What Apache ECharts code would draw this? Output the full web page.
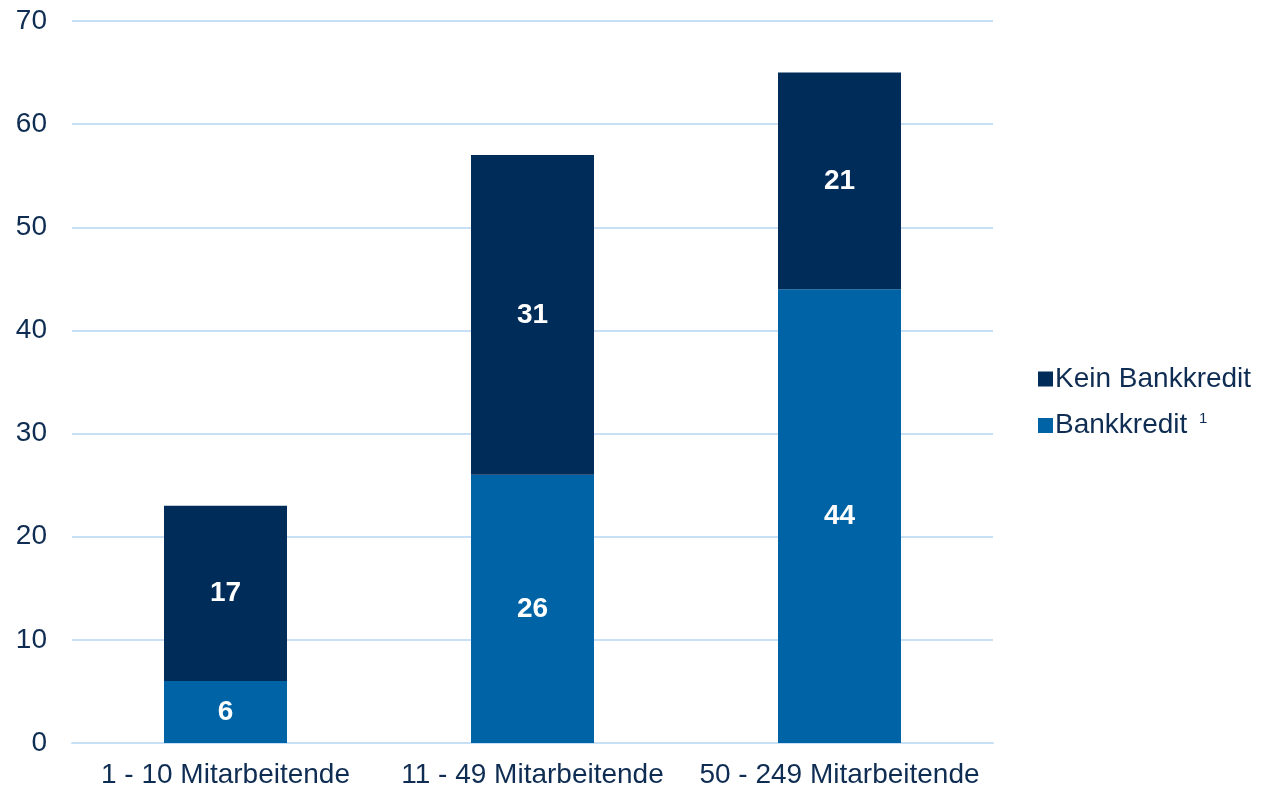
<!DOCTYPE html>
<html><head><meta charset="utf-8">
<script src="https://cdn.jsdelivr.net/npm/echarts@6/dist/echarts.min.js"></script>
<style>html,body{margin:0;padding:0;background:#fff}#c{width:1272px;height:789px}</style>
</head><body><div id="c"></div>
<script>
const categories = ['1 - 10 Mitarbeitende', '11 - 49 Mitarbeitende', '50 - 249 Mitarbeitende'];
const bankkredit = [6, 26, 44];
const keinBankkredit = [17, 31, 21];
const yTicks = [0, 10, 20, 30, 40, 50, 60, 70];

const navy = '#002C5A';
const blue = '#0063A6';
const textColor = '#0F2D52';
const gridColor = '#C7E0F6';
const font = '"Liberation Sans", Arial, sans-serif';

const chart = echarts.init(document.getElementById('c'));
chart.setOption({
  animation: false,
  grid: { left: 72, right: 279, top: 21, bottom: 46, containLabel: false },
  legend: {
    orient: 'vertical', left: 1033, top: 360, itemGap: 18,
    itemWidth: 15, itemHeight: 15, icon: 'rect',
    data: ['Kein Bankkredit', 'Bankkredit'],
    formatter: function (n) { return n === 'Bankkredit' ? 'Bankkredit {sup|1}' : n; },
    textStyle: { color: textColor, fontSize: 28, fontFamily: font, padding: [0, 0, 0, -3],
      rich: { sup: { fontSize: 15, color: textColor, fontFamily: font, verticalAlign: 'top', padding: [0, 0, 14, 4] } } }
  },
  xAxis: {
    type: 'category', data: categories,
    axisLine: { show: true, lineStyle: { color: gridColor, width: 2 } },
    axisTick: { show: false },
    axisLabel: { color: textColor, fontSize: 28, fontFamily: font, margin: 18, interval: 0 }
  },
  yAxis: {
    type: 'value', min: yTicks[0], max: yTicks[yTicks.length - 1], interval: 10,
    axisLine: { show: false }, axisTick: { show: false },
    splitLine: { lineStyle: { color: gridColor, width: 2 } },
    axisLabel: { color: textColor, fontSize: 28, fontFamily: font, margin: 25 }
  },
  series: [
    { name: 'Bankkredit', type: 'bar', stack: 'a', data: bankkredit, barWidth: 123,
      itemStyle: { color: blue },
      label: { show: true, position: 'inside', color: '#fff', fontWeight: 'bold', fontSize: 28, fontFamily: font } },
    { name: 'Kein Bankkredit', type: 'bar', stack: 'a', data: keinBankkredit, barWidth: 123,
      itemStyle: { color: navy },
      label: { show: true, position: 'inside', color: '#fff', fontWeight: 'bold', fontSize: 28, fontFamily: font } }
  ]
});
</script></body></html>
